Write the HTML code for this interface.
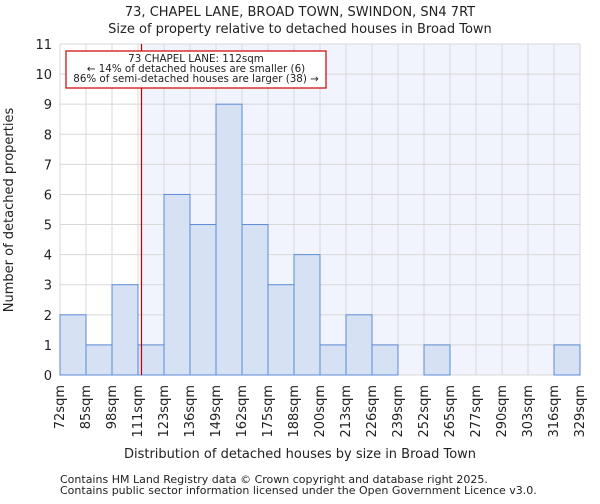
<!DOCTYPE html>
<html><head><meta charset="utf-8"><style>
body{margin:0;background:#fff;font-family:"DejaVu Sans","Liberation Sans",sans-serif;}
svg text{font-family:"DejaVu Sans","Liberation Sans",sans-serif;fill:#222;}
</style></head><body>
<svg id="c" width="600" height="500">
<text x="300" y="16" font-size="13" text-anchor="middle">73, CHAPEL LANE, BROAD TOWN, SWINDON, SN4 7RT</text>
<text x="300" y="33" font-size="13" text-anchor="middle">Size of property relative to detached houses in Broad Town</text>
<g id="plot"></g>
<text x="300" y="458" font-size="13" text-anchor="middle">Distribution of detached houses by size in Broad Town</text>
<text transform="translate(13,210) rotate(-90)" font-size="13" text-anchor="middle">Number of detached properties</text>
<text x="60" y="483" font-size="11" fill="#444">Contains HM Land Registry data © Crown copyright and database right 2025.</text>
<text x="60" y="494" font-size="11" fill="#444">Contains public sector information licensed under the Open Government Licence v3.0.</text>
</svg>
<script>
const categories=["72sqm","85sqm","98sqm","111sqm","123sqm","136sqm","149sqm","162sqm","175sqm","188sqm","200sqm","213sqm","226sqm","239sqm","252sqm","265sqm","277sqm","290sqm","303sqm","316sqm","329sqm"];
const counts=[2,1,3,1,6,5,9,5,3,4,1,2,1,0,1,0,0,0,0,1];
const yTicks=[0,1,2,3,4,5,6,7,8,9,10,11];
const markerValue=112;
const binStart=72, binWidth=13;
const X0=60,X1=580,Y0=375,Y1=44,YMAX=11;
const NS="http://www.w3.org/2000/svg";
const g=document.getElementById('plot');
const nb=counts.length;
const x=i=>X0+(X1-X0)*i/nb;
const xv=v=>X0+(X1-X0)*(v-binStart)/(binWidth*nb);
const y=v=>Y0-(Y0-Y1)*v/YMAX;
function mk(t,a){const e=document.createElementNS(NS,t);for(const k in a)e.setAttribute(k,a[k]);g.appendChild(e);return e;}
const mx=xv(markerValue);
let e=mk('rect',{x:X0,y:Y1,width:X1-X0,height:Y0-Y1,fill:'#fff'});


e=mk('rect',{x:mx,y:Y1,width:X1-mx,height:Y0-Y1,fill:'#f1f4fc'});


for(let i=0;i<=nb;i++){e=mk('line',{x1:x(i),x2:x(i),y1:Y1,y2:Y0,stroke:'#d8d8d8'});

}
yTicks.forEach(t=>{e=mk('line',{x1:X0,x2:X1,y1:y(t),y2:y(t),stroke:'#d8d8d8'});


e=mk('text',{x:X0-8,y:y(t)+5,'font-size':13,'text-anchor':'end'});e.textContent=t;

});
counts.forEach((c,i)=>{if(!c)return;e=mk('rect',{x:x(i),y:y(c),width:x(i+1)-x(i),height:Y0-y(c),fill:'#d6e1f4',stroke:'#5b8bd6','stroke-width':1});

});
categories.forEach((c,i)=>{const xx=x(i)+4;e=mk('text',{x:xx,y:Y0+10,'font-size':13,'text-anchor':'end',transform:`rotate(-90 ${xx} ${Y0+10})`});e.textContent=c;

});
e=mk('line',{x1:mx+1.5,x2:mx+1.5,y1:Y1,y2:Y0,stroke:'#cc0000','stroke-width':1.2});


e=mk('rect',{x:66,y:51,width:260,height:37,fill:'#fff',stroke:'#cc0000','stroke-width':1.2});


["73 CHAPEL LANE: 112sqm","← 14% of detached houses are smaller (6)","86% of semi-detached houses are larger (38) →"].forEach((s,i)=>{e=mk('text',{x:196,y:62+i*10,'font-size':10.3,'text-anchor':'middle'});e.textContent=s;

});
</script>
</body></html>
